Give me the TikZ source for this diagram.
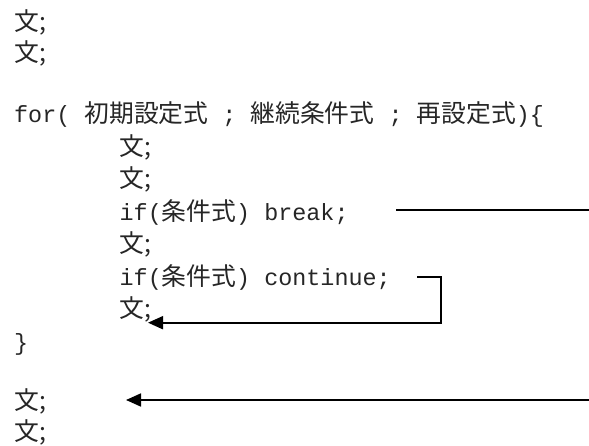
\documentclass[tikz,border=0pt]{standalone}
\usepackage{fontspec}
\setmonofont{Liberation Mono}
\newfontfamily\cjk[Scale=1.06]{Noto Sans CJK JP}
\usetikzlibrary{arrows.meta}
\begin{document}
\begin{tikzpicture}[x=1pt,y=-1pt,
  code/.style={anchor=base west, inner sep=0pt, text=black!85,
    font=\ttfamily\fontsize{23.4pt}{28pt}\selectfont},
  jumpline/.style={line width=1.8pt, line join=miter},
  jumparrow/.style={jumpline, -{Triangle[length=15pt,width=13pt]}}]
\useasboundingbox (0,0) rectangle (589,446);
% code lines
\node[code] (s1) at (14,31) {\cjk 文;};
\node[code] (s2) at (14,62) {\cjk 文;};
\node[code] (for) at (14,123) {for( {\cjk 初期設定式} ; {\cjk 継続条件式} ; {\cjk 再設定式})\{};
\node[code] (s3) at (119.5,155.5) {\cjk 文;};
\node[code] (s4) at (119.5,188) {\cjk 文;};
\node[code] (brk) at (119.5,220.5) {if({\cjk 条件式}) break;};
\node[code] (s5) at (119.5,253) {\cjk 文;};
\node[code] (cont) at (119.5,285.5) {if({\cjk 条件式}) continue;};
\node[code] (s6) at (119.5,318) {\cjk 文;};
\node[code] (close) at (14,350.5) {\}};
\node[code] (s7) at (14,409) {\cjk 文;};
\node[code] (s8) at (14,440) {\cjk 文;};
% connectors
\coordinate (b1) at (396,210);
\coordinate (b2) at (589,210);
\draw[jumpline] (b1) -- (b2);
\coordinate (c1) at (417,277);
\coordinate (c2) at (441,322.7);
\coordinate (c3) at (148,322.7);
\draw[jumparrow] (c1) -| (c2) -- (c3);
\coordinate (e1) at (589,400);
\coordinate (e2) at (126,400);
\draw[jumparrow] (e1) -- (e2);
\end{tikzpicture}
\end{document}
